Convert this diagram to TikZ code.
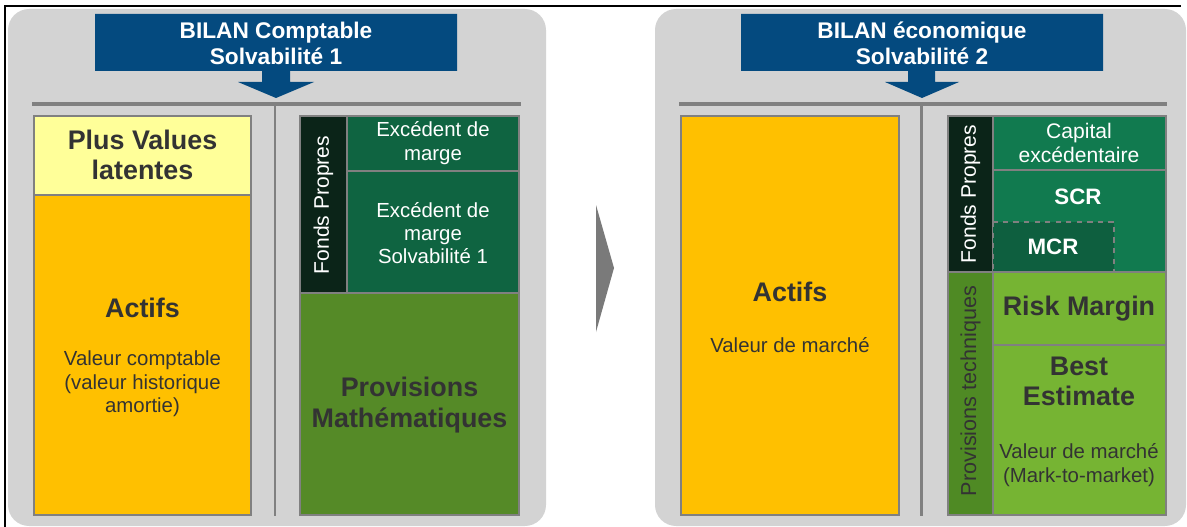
\documentclass[tikz,border=0pt]{standalone}
\usepackage{fontspec}
\setmainfont{Liberation Sans}
\usepackage{xcolor}

\definecolor{panelgray}{HTML}{D3D3D3}
\definecolor{rulegray}{HTML}{808080}
\definecolor{titleblue}{HTML}{044A7F}
\definecolor{textdark}{HTML}{333333}
\definecolor{actifsorange}{HTML}{FFC000}
\definecolor{pvyellow}{HTML}{FFFF99}
\definecolor{fpblack}{HTML}{0B2418}
\definecolor{excgreen}{HTML}{0F6441}
\definecolor{capgreen}{HTML}{117A4F}
\definecolor{mcrgreen}{HTML}{0E5F3F}
\definecolor{pmgreen}{HTML}{558A27}
\definecolor{ptgreen}{HTML}{4F8A24}
\definecolor{rmgreen}{HTML}{76B433}

\begin{document}
\begin{tikzpicture}[x=0.02cm, y=-0.02cm,
    panel/.style={fill=panelgray, rounded corners=12pt},
    cell/.style={draw=rulegray, line width=1pt},
    hrule/.style={draw=rulegray, line width=2.3pt},
    vrule/.style={draw=rulegray, line width=1.7pt},
    header/.style={fill=titleblue},
    title/.style={text=white, font=\fontsize{12.9}{14.7}\selectfont\bfseries, align=center},
    big/.style={text=textdark, font=\fontsize{15.3}{17.2}\selectfont\bfseries, align=center},
    small/.style={text=textdark, font=\fontsize{11.6}{13.3}\selectfont, align=center},
    light/.style={text=white, font=\fontsize{11.6}{13.3}\selectfont, align=center},
    lightbold/.style={text=white, font=\fontsize{12.7}{14}\selectfont\bfseries, align=center},
    sidebar/.style={rotate=90, font=\fontsize{12}{13}\selectfont, align=center}]
    \useasboundingbox (0,0) rectangle (1187,527);
    \fill[white] (0,0) rectangle (1187,527);
    \draw[black, line width=0.8pt] (5,527) -- (5,6) -- (1181,6);

    % Solvabilite 1
    \path[panel] (8,9) rectangle (546,526);
    \fill[header] (95,14) -- (457,14) -- (457,71) -- (290,71) -- (290,82) -- (314,82)
        -- (276,98) -- (238,82) -- (262,82) -- (262,71) -- (95,71) -- cycle;
    \node[title] (t1) at (276,43) {BILAN Comptable\\Solvabilité 1};
    \draw[hrule] (32,104) -- (521,104);
    \draw[vrule] (275,104) -- (275,516);

    \draw[cell, fill=pvyellow] (34,116) rectangle (251,195);
    \draw[cell, fill=actifsorange] (34,195) rectangle (251,515);
    \node[big] (pv1) at (142.5,155) {Plus Values\\latentes};
    \node[big] (act1) at (142.5,308) {Actifs};
    \node[small] (vc1) at (142.5,384) {Valeur comptable\\(valeur historique\\amortie)};

    \draw[cell, fill=fpblack] (300,116) rectangle (347,293);
    \draw[cell, fill=excgreen] (347,116) rectangle (519,171);
    \draw[cell, fill=excgreen] (347,171) rectangle (519,293);
    \draw[cell, fill=pmgreen] (300,293) rectangle (519,515);
    \node[sidebar, text=white] (fp1) at (323.5,205) {Fonds Propres};
    \node[light] (em1) at (433,143) {Excédent de\\marge};
    \node[light] (es1) at (433,233) {Excédent de\\marge\\Solvabilité 1};
    \node[big] (pm1) at (409.5,405) {Provisions\\Mathématiques};

    % passage de S1 a S2
    \fill[rulegray!95!black] (596,205) -- (614,268) -- (596,332) -- cycle;

    % Solvabilite 2
    \path[panel] (655,9) rectangle (1186,526);
    \fill[header] (741,14) -- (1103,14) -- (1103,71) -- (935,71) -- (935,82) -- (959,82)
        -- (922,98) -- (885,82) -- (908,82) -- (908,71) -- (741,71) -- cycle;
    \node[title] (t2) at (922,43) {BILAN économique\\Solvabilité 2};
    \draw[hrule] (679,104) -- (1167,104);
    \draw[vrule] (921,104) -- (921,516);

    \draw[cell, fill=actifsorange] (681,116) rectangle (899,515);
    \node[big] (act2) at (790,292) {Actifs};
    \node[small] (vm2) at (790,345) {Valeur de marché};

    \draw[cell, fill=fpblack] (948,116) rectangle (993,272);
    \draw[cell, fill=capgreen] (993,116) rectangle (1166,170);
    \draw[cell, fill=capgreen] (993,170) rectangle (1166,272);
    \draw[cell, dashed, fill=mcrgreen] (993,222) rectangle (1114,272);
    \draw[cell, fill=ptgreen] (948,272) rectangle (993,515);
    \draw[cell, fill=rmgreen] (993,272) rectangle (1166,345);
    \draw[cell, fill=rmgreen] (993,345) rectangle (1166,515);
    \node[sidebar, text=white] (fp2) at (970.5,194) {Fonds Propres};
    \node[sidebar, text=textdark, font=\fontsize{12.3}{14}\selectfont] (pt2) at (970.5,391) {Provisions techniques};
    \node[light, font=\fontsize{12}{13.5}\selectfont] (cap2) at (1079,143) {Capital\\excédentaire};
    \node[lightbold] (scr2) at (1078,197) {SCR};
    \node[lightbold] (mcr2) at (1053,247) {MCR};
    \node[big] (rm2) at (1079,309) {Risk Margin};
    \node[big] (be2) at (1079,381) {Best\\Estimate};
    \node[small] (mtm2) at (1079,465) {Valeur de marché\\(Mark-to-market)};
\end{tikzpicture}
\end{document}
